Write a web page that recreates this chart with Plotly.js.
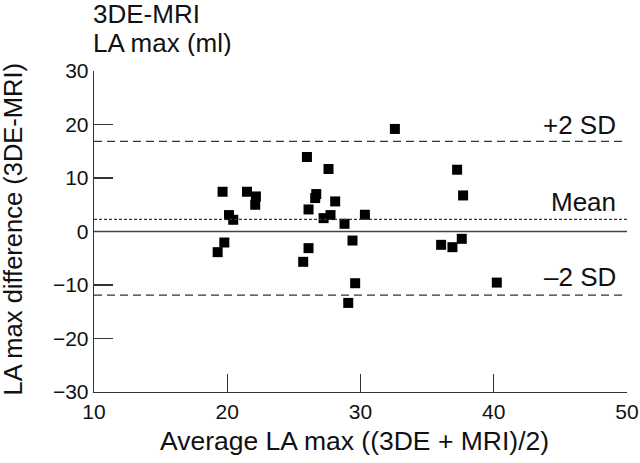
<!DOCTYPE html>
<html>
<head>
<meta charset="utf-8">
<script src="https://cdn.plot.ly/plotly-3.0.1.min.js"></script>
<style>html,body{margin:0;padding:0;background:#fff;}#chart{width:640px;height:463px;}</style>
</head>
<body>
<div id="chart"></div>
<script>
// Data
const avgLAmax = [19.65, 20.13, 20.45, 21.48, 22.15, 22.1,
  25.98, 27.6, 26.68, 26.6, 26.1, 28.1, 27.23, 27.75, 28.8,
  32.58, 37.25, 37.7, 30.33,
  19.28, 19.78, 25.7, 26.1, 29.4, 29.6, 29.08, 36.05, 36.9, 37.6, 40.23];
const diffLAmax = [7.43, 3.07, 2.19, 7.43, 6.55, 5.0,
  13.93, 11.68, 7.0, 6.25, 4.12, 5.62, 2.5, 3.07, 1.44,
  19.17, 11.55, 6.74, 3.13,
  -3.86, -2.06, -5.67, -3.11, -1.69, -9.67, -13.35, -2.49, -2.93, -1.37, -9.55];
const meanDiff = 2.25;
const plus2SD = 16.85;
const minus2SD = -11.9;
const xTicks = [10, 20, 30, 40, 50];
const yTicks = [-30, -20, -10, 0, 10, 20, 30];
const refLabels = ["+2 SD", "Mean", "\u20132 SD"];
const refLabelY = [20.0, 5.6, -8.5];
const xTitle = "Average LA max ((3DE + MRI)/2)";
const yTitle = "LA max difference (3DE-MRI)";
const topTitle = ["3DE-MRI", "LA max (ml)"];

const FONT = "Liberation Sans, Arial, Helvetica, sans-serif";
const LINEC = "#333";
const TXT = "#111";

const trace = {
  x: avgLAmax, y: diffLAmax, type: "scatter", mode: "markers",
  marker: {symbol: "square", size: 10, color: "#000"},
  hoverinfo: "x+y"
};

const layout = {
  width: 640, height: 463,
  margin: {l: 94, r: 13, t: 71, b: 71},
  paper_bgcolor: "#fff", plot_bgcolor: "#fff",
  showlegend: false,
  font: {family: FONT, color: TXT, size: 21},
  xaxis: {
    range: [10, 50], tickvals: xTicks, ticktext: xTicks.map(String),
    ticks: "inside", ticklen: 18, tickwidth: 1.3, tickcolor: LINEC,
    showline: true, linecolor: LINEC, linewidth: 1.3,
    showgrid: false, zeroline: false, automargin: false,
    tickfont: {family: FONT, size: 21, color: TXT}
  },
  yaxis: {
    range: [-30, 30], tickvals: yTicks, ticktext: yTicks.map(v => v < 0 ? "\u2212" + Math.abs(v) : String(v)),
    ticks: "inside", ticklen: 19, tickwidth: 1.3, tickcolor: LINEC,
    showline: true, linecolor: LINEC, linewidth: 1.3,
    showgrid: false, zeroline: false, automargin: false,
    tickfont: {family: FONT, size: 21, color: TXT}
  },
  shapes: [
    {type: "line", xref: "x", yref: "y", x0: 10, x1: 50, y0: 0, y1: 0, line: {color: "#444", width: 1.5}},
    {type: "line", xref: "x", yref: "y", x0: 10, x1: 49.7, y0: plus2SD, y1: plus2SD, line: {color: LINEC, width: 1.3, dash: "8px,5px"}},
    {type: "line", xref: "x", yref: "y", x0: 10, x1: 50, y0: meanDiff, y1: meanDiff, line: {color: LINEC, width: 1.3, dash: "3px,2px"}},
    {type: "line", xref: "x", yref: "y", x0: 10, x1: 49.7, y0: minus2SD, y1: minus2SD, line: {color: LINEC, width: 1.3, dash: "8px,5px"}}
  ],
  annotations: [
    {xref: "paper", yref: "paper", x: 0, y: 1.178, xanchor: "left", yanchor: "middle", xshift: -3, height: 27,
     text: topTitle[0], showarrow: false, font: {family: FONT, size: 26, color: TXT}},
    {xref: "paper", yref: "paper", x: 0, y: 1.09, xanchor: "left", yanchor: "middle", xshift: -3, height: 27,
     text: topTitle[1], showarrow: false, font: {family: FONT, size: 26, color: TXT}},
    {xref: "paper", yref: "paper", x: 0.5, y: 0, xanchor: "center", yanchor: "middle", xshift: -6, yshift: -49,
     text: xTitle, showarrow: false, font: {family: FONT, size: 26.5, color: TXT}},
    {xref: "paper", yref: "paper", x: 0, y: 0.5, xanchor: "center", yanchor: "middle", xshift: -82, yshift: 2,
     textangle: -90, text: yTitle, showarrow: false, font: {family: FONT, size: 25.5, color: TXT}}
  ].concat(refLabels.map((t, i) => ({
     xref: "x", yref: "y", x: 49.3, y: refLabelY[i], xanchor: "right", yanchor: "middle",
     text: t, showarrow: false, font: {family: FONT, size: 26, color: TXT}
  })))
};

Plotly.newPlot("chart", [trace], layout, {displayModeBar: false, staticPlot: true});
</script>
</body>
</html>
